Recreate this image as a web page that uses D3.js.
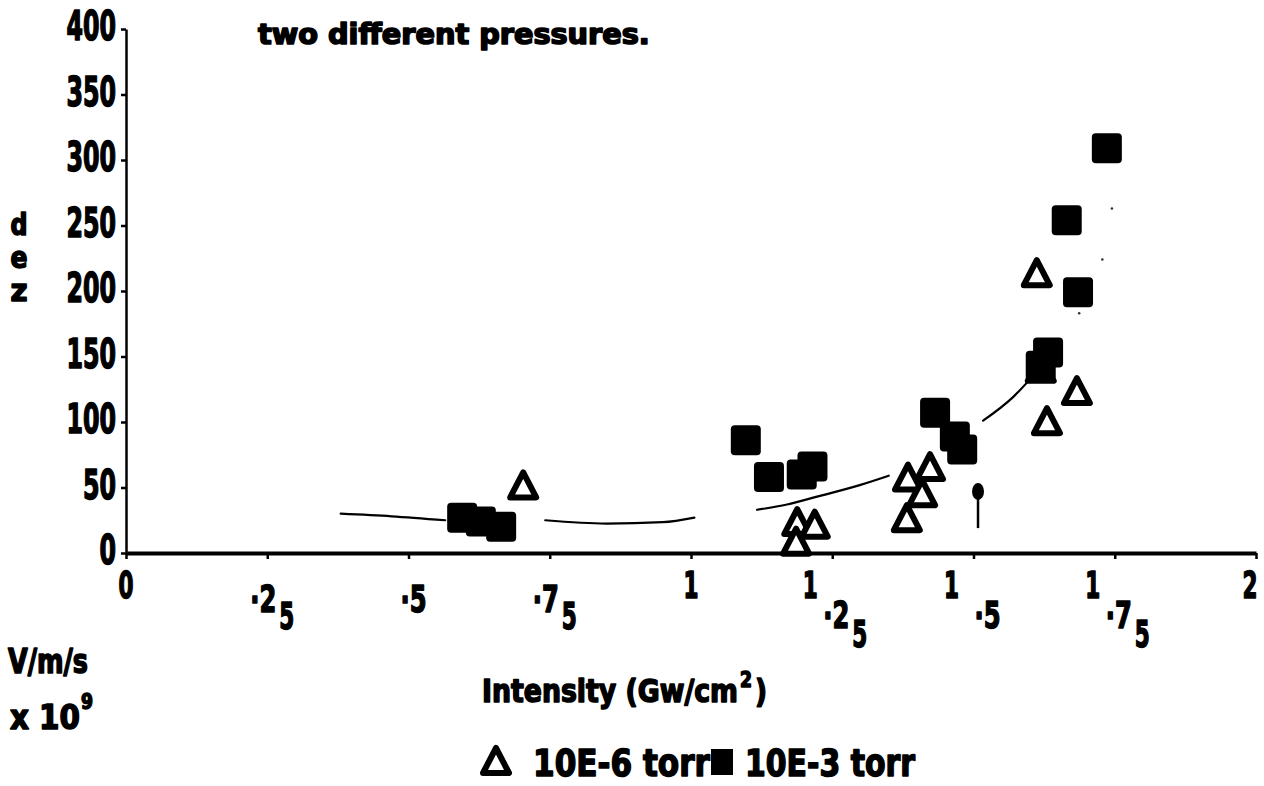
<!DOCTYPE html>
<html>
<head>
<meta charset="utf-8">
<script src="https://cdn.jsdelivr.net/npm/d3@7"></script>
<style>
  html, body { margin: 0; padding: 0; background: #fff; }
  svg { display: block; }
  text {
    font-family: "DejaVu Sans Condensed", "DejaVu Sans", sans-serif;
    font-weight: bold;
    fill: #000;
    stroke: #000;
    stroke-width: 1.5px;
    stroke-linejoin: round;
  }
</style>
</head>
<body>
<svg id="chart" width="1264" height="786"></svg>
<script>
// Axis ticks and labels
const xTicks = [0, 0.25, 0.5, 0.75, 1, 1.25, 1.5, 1.75, 2];
const xTickLabels = ["0", "·25", "·5", "·75", "1", "1·25", "1·5", "1·75", "2"];
const yTicks = [0, 50, 100, 150, 200, 250, 300, 350, 400];

// 10E-6 torr (open triangles): intensity, value
const lowX = [0.703, 1.188, 1.186, 1.219, 1.382, 1.384, 1.409, 1.423, 1.612, 1.619, 1.630, 1.683];
const lowY = [52, 24, 9, 22, 27, 58, 46, 66, 214, 141, 101, 124];

// 10E-3 torr (filled squares)
const highX = [0.595, 0.628, 0.664, 1.097, 1.138, 1.196, 1.215, 1.432, 1.467, 1.480, 1.619, 1.632, 1.665, 1.685, 1.736];
const highY = [27, 24, 20, 86, 58, 60, 66, 107, 89, 79, 143, 153, 254, 199, 309];

// Hand-drawn trend curve; null marks a break in the pen stroke
const fitX = [0.38, 0.47, 0.565, 0.60, 0.742, 0.85, 0.95, 1.006, 1.05, 1.117, 1.17, 1.223, 1.30, 1.35, 1.40, 1.517, 1.57, 1.615];
const fitY = [30, 28, 25, null, 25, 22.5, 23.5, 27, null, 33, 37, 43, 52, 59, null, 101, 119, 140];
// faint specks where the curve continues upward
const fitTailX = [1.687, 1.728, 1.745];
const fitTailY = [183, 224, 263];

// single pin marker
const pinX = [1.508];
const pinTop = [47];
const pinBottom = [19];

const svg = d3.select("#chart");

const x = d3.scaleLinear().domain([0, 2]).range([126, 1256]);
const y = d3.scaleLinear().domain([0, 400]).range([553, 29]);

// Draws a text squeezed horizontally to a given width; anchor is "start", "middle" or "end".
function label(parent, str, px, py, size, width, anchor = "start") {
  const t = parent.append("text").attr("font-size", size).text(str);
  const natural = t.node().getComputedTextLength();
  const sx = width / natural;
  const left = anchor === "middle" ? px - width / 2 : anchor === "end" ? px - width : px;
  t.attr("transform", `translate(${left},${py}) scale(${sx},1)`);
  return t;
}

// ---- Axes ----
const yAxis = svg.append("g")
  .attr("transform", `translate(${x(0)},0)`)
  .call(d3.axisLeft(y).tickValues(yTicks).tickSize(5).tickSizeOuter(0).tickFormat(""));
yAxis.select(".domain").attr("stroke", "#000").attr("stroke-width", 2.5);
yAxis.selectAll(".tick line").attr("stroke", "#000").attr("stroke-width", 2.5);
const yl0 = svg.append("g");
yTicks.forEach(v => {
  label(yl0, String(v), 116, y(v) + 11, 40, String(v).length * 16.5, "end");
});

const xAxis = svg.append("g")
  .attr("transform", `translate(0,${y(0)})`)
  .call(d3.axisBottom(x).tickValues(xTicks).tickSize(6).tickSizeOuter(0).tickFormat(""));
xAxis.select(".domain").attr("stroke", "#000").attr("stroke-width", 4);
xAxis.selectAll(".tick line").attr("stroke", "#000").attr("stroke-width", 2.5);

// x tick labels: integer part on the first line, fraction below with a dropped last digit
const xl = svg.append("g");
xTicks.forEach((v, i) => {
  const parts = xTickLabels[i].split("·");
  const intPart = parts[0];
  const frac = parts.length > 1 ? parts[1] : null;
  const px = x(v);
  const last = i === xTicks.length - 1;
  if (intPart) {
    label(xl, intPart, last ? 1250 : (frac ? px - 22 : px), 598, 37, 15, "middle");
  }
  if (frac) {
    const two = frac.length > 1;
    const x0 = intPart ? px - (two ? 9 : -1) : px - (two ? 17 : 8);
    const y0 = intPart ? 628 : 612;
    label(xl, "·" + frac[0], x0, y0, 37, 26);
    if (two) {
      label(xl, frac[1], x0 + 29, y0 + (intPart ? 19 : 17), 37, 15);
    }
  }
});

// ---- Trend curve ----
const line = d3.line()
  .defined(d => d[0] != null && d[1] != null)
  .x(d => x(d[0])).y(d => y(d[1]))
  .curve(d3.curveMonotoneX);
svg.append("path")
  .attr("d", line(d3.zip(fitX, fitY)))
  .attr("fill", "none")
  .attr("stroke", "#000")
  .attr("stroke-width", 2.2)
  .attr("stroke-linecap", "round");
svg.append("g").selectAll("circle")
  .data(d3.zip(fitTailX, fitTailY))
  .join("circle")
  .attr("cx", d => x(d[0]))
  .attr("cy", d => y(d[1]))
  .attr("r", 1.3)
  .attr("fill", "#333");

// ---- Markers ----
const triPath = "M0,-15 L13,10 L-13,10 Z";
svg.append("g").selectAll("path")
  .data(d3.zip(lowX, lowY))
  .join("path")
  .attr("d", triPath)
  .attr("transform", d => `translate(${x(d[0])},${y(d[1]) + 2.5})`)
  .attr("fill", "#fff")
  .attr("stroke", "#000")
  .attr("stroke-width", 6)
  .attr("stroke-linejoin", "round");

svg.append("g").selectAll("rect")
  .data(d3.zip(highX, highY))
  .join("rect")
  .attr("x", d => x(d[0]) - 15)
  .attr("y", d => y(d[1]) - 15)
  .attr("width", 30)
  .attr("height", 30)
  .attr("rx", 4)
  .attr("fill", "#000");

const pins = svg.append("g");
pinX.forEach((v, i) => {
  pins.append("line")
    .attr("x1", x(v)).attr("x2", x(v))
    .attr("y1", y(pinTop[i])).attr("y2", y(pinBottom[i]))
    .attr("stroke", "#000").attr("stroke-width", 2.5);
  pins.append("ellipse")
    .attr("cx", x(v)).attr("cy", y(pinTop[i]))
    .attr("rx", 6).attr("ry", 8.5)
    .attr("fill", "#000");
});

// ---- Texts ----
label(svg, "two different pressures.", 258, 44, 28, 392).attr("stroke-width", 2);

// vertical y label, letters stacked
["d", "e", "z"].forEach((c, i) => {
  label(svg, c, 19, 235 + i * 33, 30, 17, "middle");
});

label(svg, "V/m/s", 8, 673, 33, 80);
label(svg, "x 10", 10, 729, 33, 70);
label(svg, "9", 81, 709, 22, 12);

label(svg, "Intensity (Gw/cm", 482, 702, 32, 256);
label(svg, "2", 740, 687, 21, 12);
label(svg, ")", 755, 702, 32, 12);

// legend
const lg = svg.append("g");
lg.append("path")
  .attr("d", triPath)
  .attr("transform", "translate(496,763)")
  .attr("fill", "#fff").attr("stroke", "#000")
  .attr("stroke-width", 6).attr("stroke-linejoin", "round");
label(lg, "10E-6 torr", 533, 776, 38, 177);
lg.append("rect")
  .attr("x", 711).attr("y", 749).attr("width", 22).attr("height", 26)
  .attr("fill", "#000");
label(lg, "10E-3 torr", 745, 776, 38, 170);
</script>
</body>
</html>
